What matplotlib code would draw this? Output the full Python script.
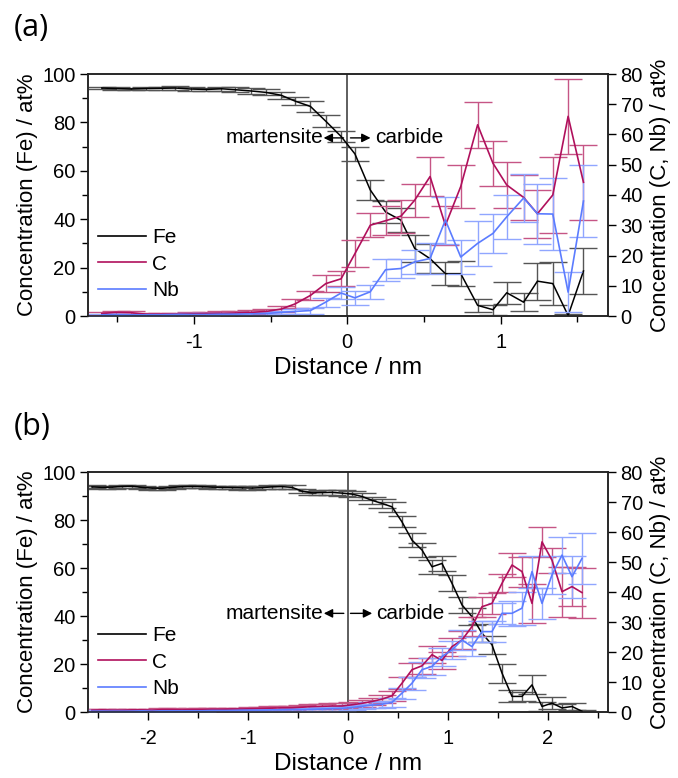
import matplotlib
matplotlib.use("Agg")
import matplotlib.pyplot as plt
from matplotlib.ticker import MultipleLocator
import numpy as np

plt.rcParams['font.family'] = ['Liberation Sans', 'DejaVu Sans']
plt.rcParams['axes.unicode_minus'] = False

# ---------------- Panel (a) data ----------------
xa = [-1.60, -1.51, -1.41, -1.31, -1.21, -1.12, -1.02, -0.92, -0.82, -0.73, -0.63,
      -0.53, -0.43, -0.34, -0.24, -0.14, -0.04, 0.05, 0.15, 0.25, 0.35, 0.44, 0.54,
      0.64, 0.74, 0.85, 0.95, 1.04, 1.15, 1.24, 1.34, 1.44, 1.54]
fe_a = [94.2, 94.0, 93.8, 94.0, 94.1, 94.2, 93.8, 93.6, 93.9, 93.5, 93.0,
        92.4, 91.2, 88.8, 86.6, 80.5, 74.2, 67.0, 52.1, 43.0, 39.6, 27.9, 23.7,
        17.5, 17.5, 4.4, 2.6, 9.6, 5.7, 14.4, 13.4, 0.2, 18.6]
fe_a_err = [0.5, 0.5, 0.6, 0.6, 0.7, 0.7, 0.8, 0.8, 0.9, 1.0, 1.1,
            1.2, 1.5, 1.8, 2.2, 2.6, 2.4, 3.0, 4.2, 4.5, 5.0, 5.5, 5.9,
            4.8, 5.3, 2.8, 2.0, 4.6, 3.8, 7.6, 8.8, 0.5, 9.5]
c_a = [0.8, 1.2, 1.1, 0.6, 0.6, 0.6, 0.7, 0.8, 0.9, 1.0, 1.2,
       1.5, 2.3, 4.0, 6.8, 10.7, 12.3, 20.6, 30.0, 31.5, 33.0, 38.3, 46.1,
       30.0, 42.8, 63.2, 50.5, 43.3, 39.2, 33.8, 40.0, 66.0, 44.2]
c_a_err = [0.5, 0.5, 0.5, 0.5, 0.5, 0.5, 0.5, 0.6, 0.6, 0.7, 0.8,
           0.9, 1.0, 1.5, 1.4, 2.8, 2.5, 4.4, 3.9, 4.7, 5.5, 5.5, 6.3,
           6.4, 7.0, 7.5, 7.4, 7.5, 7.5, 8.0, 12.6, 12.3, 12.4]
nb_a = [0.4, 0.5, 0.4, 0.4, 0.4, 0.5, 0.5, 0.5, 0.6, 0.6, 0.7,
        0.8, 1.2, 1.5, 1.8, 4.6, 7.6, 6.0, 8.0, 15.3, 15.7, 17.9, 19.0,
        31.7, 19.5, 24.0, 27.3, 32.8, 39.0, 33.8, 33.7, 7.9, 38.0]
nb_a_err = [0.3, 0.3, 0.3, 0.3, 0.3, 0.3, 0.4, 0.4, 0.4, 0.4, 0.5,
            0.5, 0.6, 0.8, 1.0, 1.5, 2.0, 2.3, 2.4, 3.6, 3.3, 3.9, 5.0,
            7.8, 5.5, 7.5, 6.4, 7.2, 8.0, 10.0, 12.0, 6.5, 12.0]

# ---------------- Panel (b) data ----------------
xb = [-2.56, -2.46, -2.36, -2.26, -2.16, -2.06, -1.96, -1.86, -1.76, -1.66,
      -1.56, -1.46, -1.36, -1.26, -1.16, -1.06, -0.96, -0.86, -0.76, -0.66,
      -0.56, -0.46, -0.36, -0.26, -0.16, -0.06, 0.04, 0.14, 0.24, 0.34,
      0.44, 0.54, 0.64, 0.74, 0.84, 0.94, 1.04, 1.14, 1.24, 1.34,
      1.44, 1.54, 1.64, 1.74, 1.84, 1.94, 2.04, 2.14, 2.24, 2.34]
fe_b = [93.8, 93.6, 93.7, 94.0, 94.1, 93.6, 93.3, 93.2, 93.6, 93.9,
        94.0, 93.9, 93.7, 93.6, 93.5, 93.4, 93.3, 93.5, 93.8, 93.9,
        93.6, 92.0, 91.3, 91.4, 91.5, 91.2, 90.8, 89.8, 88.2, 86.9,
        85.5, 79.2, 71.6, 67.5, 60.5, 61.9, 53.6, 44.6, 39.7, 32.8,
        28.0, 16.2, 6.5, 6.5, 11.3, 2.3, 3.7, 1.7, 2.3, 0.3]
fe_b_err = [0.6, 0.6, 0.6, 0.6, 0.6, 0.6, 0.6, 0.6, 0.6, 0.6,
            0.6, 0.6, 0.6, 0.6, 0.7, 0.7, 0.7, 0.7, 0.8, 0.8,
            0.8, 0.9, 0.9, 1.0, 1.0, 1.1, 1.2, 1.3, 1.5, 1.8,
            2.0, 2.3, 2.8, 2.8, 3.0, 3.0, 3.3, 3.5, 3.5, 3.8,
            3.8, 4.0, 2.5, 2.0, 4.0, 2.0, 2.5, 1.5, 1.5, 0.5]
c_b = [0.6, 0.7, 0.6, 0.6, 0.7, 0.7, 0.6, 0.8, 0.8, 0.7,
       0.8, 0.8, 0.9, 0.9, 1.0, 1.0, 1.1, 1.2, 1.3, 1.4,
       1.4, 1.6, 1.8, 1.9, 2.0, 2.0, 2.4, 2.9, 3.5, 4.3,
       5.4, 9.6, 14.1, 15.4, 19.1, 17.2, 21.8, 24.0, 28.5, 35.1,
       36.2, 42.9, 49.0, 46.8, 36.2, 56.7, 50.6, 40.1, 41.8, 39.8]
c_b_err = [0.4, 0.4, 0.4, 0.4, 0.4, 0.4, 0.4, 0.4, 0.4, 0.4,
           0.4, 0.4, 0.5, 0.5, 0.5, 0.5, 0.5, 0.6, 0.6, 0.6,
           0.7, 0.7, 0.8, 0.8, 0.9, 0.9, 1.0, 1.1, 1.2, 1.4,
           1.6, 2.0, 2.4, 2.6, 2.8, 2.8, 3.0, 3.0, 3.2, 3.4,
           3.4, 3.0, 3.9, 5.0, 6.4, 5.0, 4.2, 8.3, 6.6, 8.3]
nb_b = [0.3, 0.3, 0.3, 0.3, 0.3, 0.4, 0.3, 0.4, 0.4, 0.4,
        0.4, 0.4, 0.5, 0.5, 0.5, 0.6, 0.6, 0.6, 0.7, 0.7,
        0.8, 0.8, 0.9, 1.0, 1.1, 1.2, 1.5, 1.9, 2.3, 2.6,
        3.2, 6.3, 9.6, 14.1, 15.2, 18.5, 20.7, 24.0, 21.8, 26.8,
        26.8, 32.9, 32.9, 34.6, 46.8, 36.2, 45.7, 52.3, 45.1, 51.2]
nb_b_err = [0.3, 0.3, 0.3, 0.3, 0.3, 0.3, 0.3, 0.3, 0.3, 0.3,
            0.3, 0.3, 0.3, 0.3, 0.3, 0.4, 0.4, 0.4, 0.4, 0.4,
            0.5, 0.5, 0.5, 0.6, 0.6, 0.7, 0.8, 0.9, 1.0, 1.2,
            1.4, 1.8, 2.2, 2.6, 2.8, 3.0, 3.0, 3.2, 3.2, 3.4,
            3.4, 3.6, 4.2, 5.5, 5.3, 5.3, 6.4, 6.0, 7.0, 8.6]

FE_COL = '#000000'
C_COL = '#b0105c'
NB_COL = '#5b7cff'
FE_ECOL = '#555555'
C_ECOL = '#c65585'
NB_ECOL = '#90a6ff'

W, H = 678, 778
fig = plt.figure(figsize=(W / 100, H / 100), dpi=100)


def panel(rect, x, fe, fe_err, c, c_err, nb, nb_err, xlim, label,
          ann_y, ann, leg_anchor, label_y):
    ax = fig.add_axes(rect)
    ax2 = ax.twinx()
    cap = 10
    ax.errorbar(x, fe, yerr=fe_err, color=FE_COL, ecolor=FE_ECOL, elinewidth=1.0,
                capsize=cap, capthick=1.0, lw=1.1, zorder=3)
    l_fe, = ax.plot([], [], color=FE_COL, lw=1.2)
    ax2.errorbar(x, c, yerr=c_err, color=C_COL, ecolor=C_ECOL, elinewidth=1.0,
                 capsize=cap, capthick=1.0, lw=1.2)
    ax2.errorbar(x, nb, yerr=nb_err, color=NB_COL, ecolor=NB_ECOL, elinewidth=1.0,
                 capsize=cap, capthick=1.0, lw=1.2)
    l_c, = ax2.plot([], [], color=C_COL, lw=1.2)
    l_nb, = ax2.plot([], [], color=NB_COL, lw=1.2)

    ax.set_xlim(*xlim)
    ax.set_ylim(0, 100)
    ax2.set_ylim(0, 80)
    ax.xaxis.set_major_locator(MultipleLocator(1))
    ax.xaxis.set_minor_locator(MultipleLocator(0.5))
    ax.yaxis.set_major_locator(MultipleLocator(20))
    ax.yaxis.set_minor_locator(MultipleLocator(10))
    ax2.yaxis.set_major_locator(MultipleLocator(10))
    for a in (ax, ax2):
        a.tick_params(axis='both', which='major', direction='out', length=6,
                      width=1, labelsize=14.5, pad=3)
        a.tick_params(axis='both', which='minor', direction='out', length=4, width=1)
        for s in a.spines.values():
            s.set_linewidth(1.1)
            s.set_color('#222222')
    ax.tick_params(axis='x', which='major', pad=6)
    ax.tick_params(axis='x', which='both', top=False)
    ax2.tick_params(axis='x', which='both', top=False, bottom=False)

    ax.axvline(0, color='#333333', lw=1.1, zorder=2)

    ax.set_xlabel('Distance / nm', fontsize=17.5, labelpad=4)
    ax.set_ylabel('Concentration (Fe) / at%', fontsize=16, labelpad=3)
    ax2.set_ylabel('Concentration (C, Nb) / at%', fontsize=16, labelpad=5)

    # annotations
    (m_end, m_tail, c_tail, c_head, c_start) = ann
    ax.text(m_end, ann_y, 'martensite', ha='right', va='center', fontsize=15)
    ax.annotate('', xy=(m_end, ann_y), xytext=(m_tail, ann_y),
                arrowprops=dict(arrowstyle='-|>', color='black', lw=1.0,
                                mutation_scale=13, shrinkA=0, shrinkB=0))
    ax.annotate('', xy=(c_head, ann_y), xytext=(c_tail, ann_y),
                arrowprops=dict(arrowstyle='-|>', color='black', lw=1.0,
                                mutation_scale=13, shrinkA=0, shrinkB=0))
    ax.text(c_start, ann_y, 'carbide', ha='left', va='center', fontsize=15)

    ax2.legend([l_fe, l_c, l_nb], ['Fe', 'C', 'Nb'], loc='upper left',
               bbox_to_anchor=leg_anchor, frameon=False, fontsize=15,
               handlelength=2.3, handletextpad=0.3, labelspacing=0.37,
               borderaxespad=0, borderpad=0)
    fig.text(14 / W, 1 - label_y / H, label, fontsize=22, va='center', ha='left',
             family=['Open Sans', 'DejaVu Sans'])
    return ax, ax2


left = 88 / W
width = (608 - 88) / W
panel([left, 1 - 316 / H, width, (316 - 74) / H], xa, fe_a, fe_a_err, c_a, c_a_err,
      nb_a, nb_a_err, (-1.69, 1.70), '(a)', 73.6,
      (-0.154, -0.024, 0.021, 0.152, 0.184), (0.019, 0.364), 28)
panel([left, 1 - 712 / H, width, (712 - 472) / H], xb, fe_b, fe_b_err, c_b, c_b_err,
      nb_b, nb_b_err, (-2.6, 2.6), '(b)', 41.1,
      (-0.242, -0.042, 0.025, 0.242, 0.285), (0.019, 0.358), 427)

fig.savefig('out.png', dpi=100)
